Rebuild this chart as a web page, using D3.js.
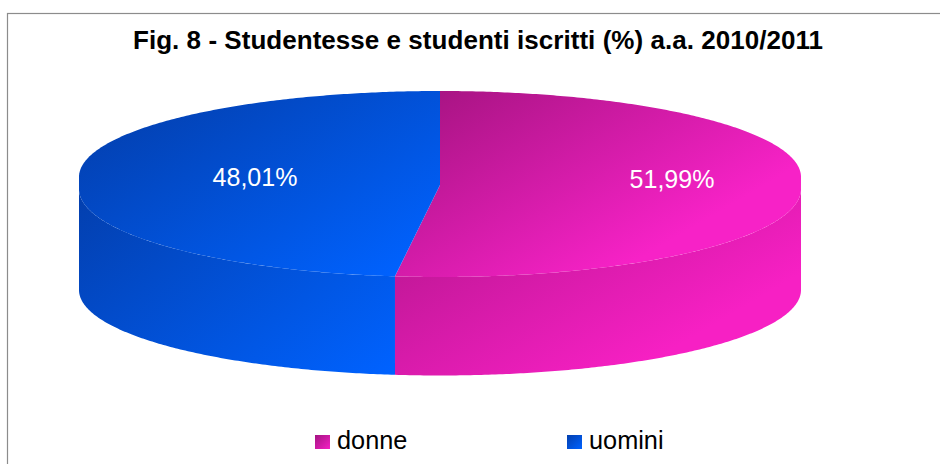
<!DOCTYPE html>
<html><head><meta charset="utf-8">
<script src="https://cdnjs.cloudflare.com/ajax/libs/d3/7.8.5/d3.min.js"></script>
<style>html,body{margin:0;padding:0;background:#fff;overflow:hidden}svg{display:block}text{font-family:"Liberation Sans",Arial,sans-serif}</style>
</head><body><svg id="c" width="940" height="464"></svg>
<script>
const titleText = "Fig. 8 - Studentesse e studenti iscritti (%) a.a. 2010/2011";
const categories = ["donne", "uomini"];
const values = [51.99, 48.01];
const labels = ["51,99%", "48,01%"];

const svg = d3.select("#c");
const defs = svg.append("defs");
function grad(id, x1, y1, x2, y2, c1, c2, units) {
  const g = defs.append("linearGradient").attr("id", id)
    .attr("gradientUnits", units || "userSpaceOnUse")
    .attr("x1", x1).attr("y1", y1).attr("x2", x2).attr("y2", y2);
  g.append("stop").attr("offset", 0).attr("stop-color", c1);
  g.append("stop").attr("offset", 1).attr("stop-color", c2);
}
const cols = {
  donne: {top: ["#a91484", "#f722c7"], side: ["#c4189a", "#f720c4"], key: ["#a31482", "#f520c4"]},
  uomini: {top: ["#033fae", "#0062ff"], side: ["#033fae", "#0062ff"], key: ["#033fae", "#0062ff"]}
};
grad("t0", 440, 91, 565, 303, cols.donne.top[0], cols.donne.top[1]);
grad("s0", 395, 277, 498, 452, cols.donne.side[0], cols.donne.side[1]);
grad("k0", 0, 0, 1, 1, cols.donne.key[0], cols.donne.key[1], "objectBoundingBox");
grad("t1", 100, 110, 250, 365, cols.uomini.top[0], cols.uomini.top[1]);
grad("s1", 85, 190, 283, 454, cols.uomini.side[0], cols.uomini.side[1]);
grad("k1", 0, 0, 1, 1, cols.uomini.key[0], cols.uomini.key[1], "objectBoundingBox");

// frame
svg.append("rect").attr("x", 7.5).attr("y", 13.5).attr("width", 960).attr("height", 480)
  .attr("fill", "#fff").attr("stroke", "#8c8c8c").attr("stroke-width", 1.2);

// pie projection
const cx = 440, rx = 361, apexY = 185;
const topUp = {cy: 177, ry: 86}, topLow = {cy: 189, ry: 88}, botLow = {cy: 290, ry: 85.5};
const xS = d3.scaleLinear().domain([-1, 1]).range([cx - rx, cx + rx]);
function topPt(a) {
  const s = Math.sin(a), c = Math.cos(a);
  const e = c >= 0 ? topUp : topLow;
  return [xS(s), e.cy - e.ry * c];
}
function botPt(a) { return [xS(Math.sin(a)), botLow.cy - botLow.ry * Math.cos(a)]; }
function arcPts(f, a0, a1) {
  const n = Math.max(2, Math.ceil(Math.abs(a1 - a0) / 0.01));
  return d3.range(n + 1).map(i => f(a0 + (a1 - a0) * i / n));
}
const line = d3.line();
const arcs = d3.pie().sort(null)(values);
const H = Math.PI / 2;

const sideSpan = d => [Math.max(d.startAngle, H), Math.min(d.endAngle, 3 * H)];
svg.selectAll("path.side").data(arcs).join("path").attr("class", "side")
  .attr("fill", (d, i) => `url(#s${i})`)
  .attr("d", d => {
    const [a, b] = sideSpan(d);
    return line(arcPts(topPt, a, b).concat(arcPts(botPt, b, a))) + "Z";
  });
svg.selectAll("path.top").data(arcs).join("path").attr("class", "top")
  .attr("fill", (d, i) => `url(#t${i})`)
  .attr("d", d => line([[cx, apexY]].concat(arcPts(topPt, d.startAngle, d.endAngle))) + "Z");

// title
svg.append("text").attr("x", 133).attr("y", 49)
  .attr("font-size", 26).attr("font-weight", "bold").attr("fill", "#000")
  .attr("textLength", 690).attr("lengthAdjust", "spacing").text(titleText);

// data labels
const labelPos = [[672, 188], [255, 186]];
svg.selectAll("text.lab").data(labels).join("text").attr("class", "lab")
  .attr("x", (d, i) => labelPos[i][0]).attr("y", (d, i) => labelPos[i][1])
  .attr("text-anchor", "middle").attr("font-size", 25).attr("fill", "#fff").text(d => d);

// legend
const legendX = [315, 567];
const lg = svg.selectAll("g.key").data(categories).join("g").attr("class", "key")
  .attr("transform", (d, i) => `translate(${legendX[i]},435)`);
lg.append("rect").attr("width", 15).attr("height", 14).attr("fill", (d, i) => `url(#k${i})`);
lg.append("text").attr("x", 22).attr("y", 14).attr("font-size", 25.3).attr("fill", "#000").text(d => d);
</script></body></html>
